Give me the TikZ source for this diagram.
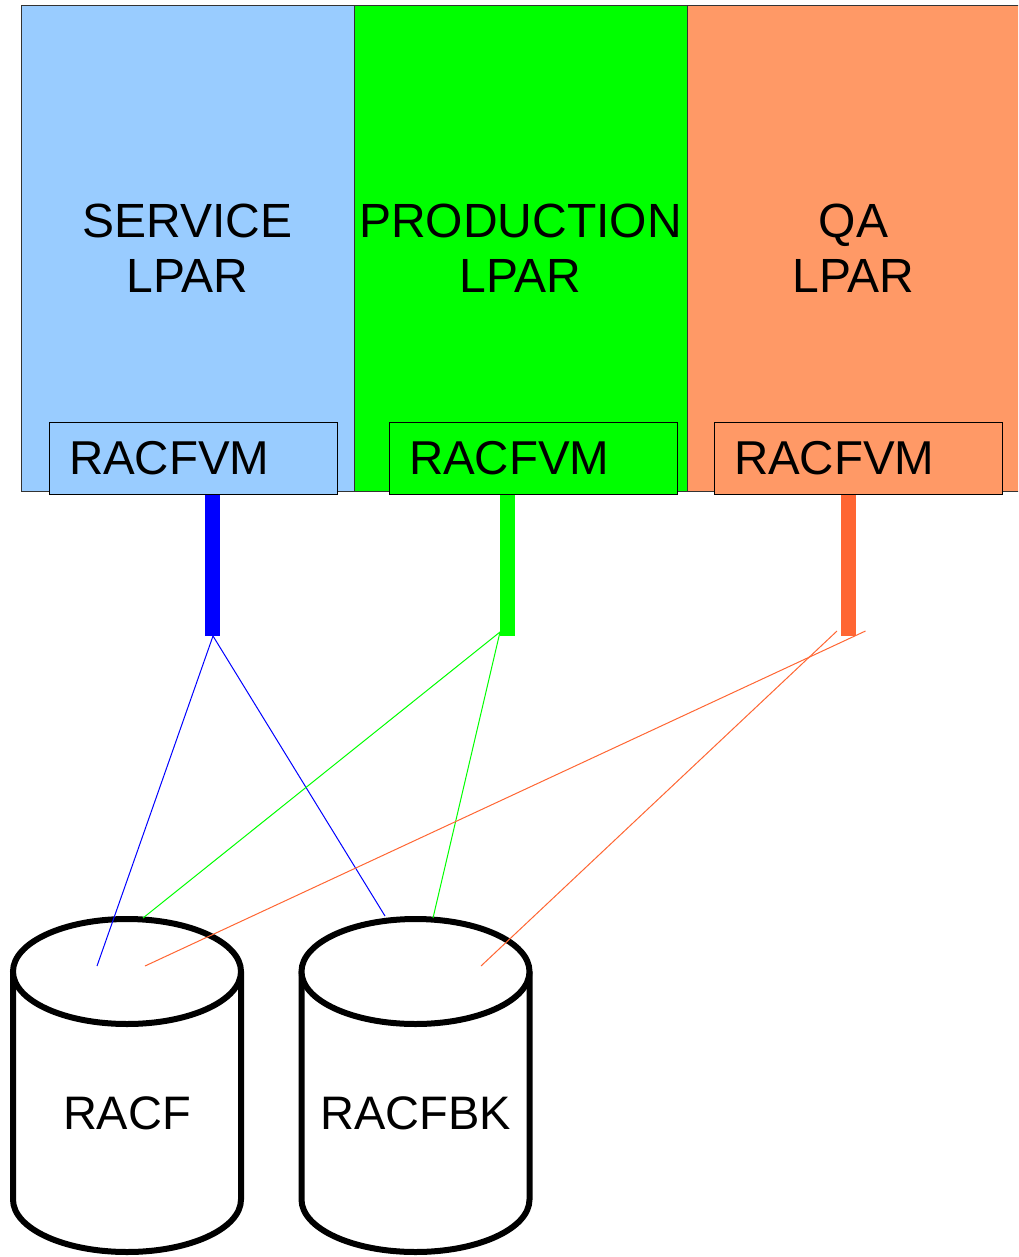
\documentclass[tikz,border=0pt]{standalone}
\usepackage{fontspec}
\setmainfont{Liberation Sans}
\definecolor{svcblue}{HTML}{99CCFF}
\definecolor{prodgreen}{HTML}{00FF00}
\definecolor{qaorange}{HTML}{FF9966}
\definecolor{barblue}{HTML}{0000FF}
\definecolor{bargreen}{HTML}{00FF00}
\definecolor{barorange}{HTML}{FF6633}
\definecolor{panelborder}{HTML}{333333}
\begin{document}
\begin{tikzpicture}[x=1pt,y=-1pt,
  panel/.style={draw=panelborder, line width=1, minimum width=333, minimum height=485,
    inner sep=0, align=center, font=\fontsize{48}{55}\selectfont},
  vmbox/.style={draw=black, line width=1, minimum height=72, inner xsep=20, inner ysep=0,
    text width=248, align=left, font=\fontsize{47.5}{55}\selectfont},
  bar/.style={line width=15},
  link/.style={line width=1},
  cylline/.style={draw=black, line width=6, fill=white},
  lbl/.style={font=\fontsize{47}{55}\selectfont, inner sep=0}
]
\useasboundingbox (0,0) rectangle (1018,1257);
\clip (0,0) rectangle (1018,1257);

% panels
\node[panel, fill=svcblue] (p1) at (187.5,248.5) {SERVICE\\LPAR};
\node[panel, fill=prodgreen] (p2) at (520.5,248.5) {PRODUCTION\\LPAR};
\node[panel, fill=qaorange] (p3) at (853.5,248.5) {QA\\LPAR};

% bar coordinates
\coordinate (b1t) at (212.5,492);
\coordinate (b1b) at (212.5,636);
\coordinate (b2t) at (507.5,492);
\coordinate (b2b) at (507.5,636);
\coordinate (b3t) at (848.5,492);
\coordinate (b3b) at (848.5,636);

\draw[bar, barblue] (b1t) -- (b1b);
\draw[bar, bargreen] (b2t) -- (b2b);
\draw[bar, barorange] (b3t) -- (b3b);

% RACFVM boxes
\node[vmbox, fill=svcblue] (vm1) at (193,458) {RACFVM};
\node[vmbox, fill=prodgreen] (vm2) at (533,458) {RACFVM};
\node[vmbox, fill=qaorange] (vm3) at (858,458) {RACFVM};

% cylinders
\filldraw[cylline] (13,971.5) -- (13,1199.5)
  arc[start angle=180, end angle=0, x radius=114, y radius=52.5] -- (241,971.5);
\filldraw[cylline] (127,971.5) ellipse [x radius=114, y radius=52.5];
\node[lbl] (racf) at (127,1113) {RACF};

\filldraw[cylline] (301.5,971.5) -- (301.5,1199.5)
  arc[start angle=180, end angle=0, x radius=114, y radius=52.5] -- (529.5,971.5);
\filldraw[cylline] (415.5,971.5) ellipse [x radius=114, y radius=52.5];
\node[lbl] (racfbk) at (416,1113) {RACFBK};

% link start/end points
\coordinate (s1) at (213,636);
\coordinate (s2) at (500,632);
\coordinate (s3a) at (865.5,631);
\coordinate (s3b) at (837,631);
\coordinate (e1a) at (97,966);
\coordinate (e1b) at (385,916);
\coordinate (e2a) at (143,918);
\coordinate (e2b) at (433,918);
\coordinate (e3a) at (145,966);
\coordinate (e3b) at (481,966);

\draw[link, barblue] (s1) -- (e1a);
\draw[link, barblue] (s1) -- (e1b);
\draw[link, bargreen] (s2) -- (e2a);
\draw[link, bargreen] (s2) -- (e2b);
\draw[link, barorange] (s3a) -- (e3a);
\draw[link, barorange] (s3b) -- (e3b);
\end{tikzpicture}
\end{document}
